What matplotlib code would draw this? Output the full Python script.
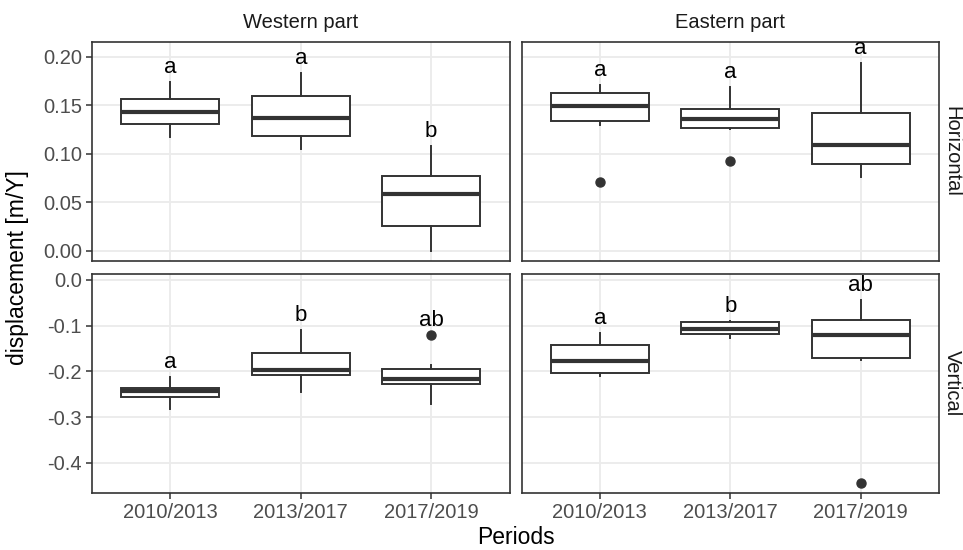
import matplotlib
matplotlib.use("Agg")
import matplotlib.pyplot as plt

plt.rcParams['font.family'] = ['Liberation Sans', 'DejaVu Sans']
plt.rcParams['axes.unicode_minus'] = False

periods = ["2010/2013", "2013/2017", "2017/2019"]
parts = ["Western part", "Eastern part"]
directions = ["Horizontal", "Vertical"]

# Western part, horizontal
wh_low = [0.117, 0.105, 0.000]
wh_q1 = [0.131, 0.118, 0.026]
wh_med = [0.143, 0.137, 0.059]
wh_q3 = [0.156, 0.159, 0.077]
wh_high = [0.174, 0.183, 0.108]
wh_out = [[], [], []]
wh_letters = ["a", "a", "b"]

# Eastern part, horizontal
eh_low = [0.130, 0.125, 0.076]
eh_q1 = [0.134, 0.126, 0.089]
eh_med = [0.149, 0.136, 0.109]
eh_q3 = [0.162, 0.146, 0.142]
eh_high = [0.171, 0.169, 0.193]
eh_out = [[0.071], [0.092], []]
eh_letters = ["a", "a", "a"]

# Western part, vertical
wv_low = [-0.282, -0.246, -0.271]
wv_q1 = [-0.256, -0.207, -0.227]
wv_med = [-0.243, -0.197, -0.216]
wv_q3 = [-0.237, -0.160, -0.195]
wv_high = [-0.212, -0.110, -0.187]
wv_out = [[], [], [-0.121]]
wv_letters = ["a", "b", "ab"]

# Eastern part, vertical
ev_low = [-0.210, -0.126, -0.176]
ev_q1 = [-0.203, -0.118, -0.171]
ev_med = [-0.177, -0.107, -0.120]
ev_q3 = [-0.142, -0.093, -0.087]
ev_high = [-0.117, -0.089, -0.044]
ev_out = [[], [], [-0.444]]
ev_letters = ["a", "b", "ab"]

panels = [
    [(wh_low, wh_q1, wh_med, wh_q3, wh_high, wh_out, wh_letters),
     (eh_low, eh_q1, eh_med, eh_q3, eh_high, eh_out, eh_letters)],
    [(wv_low, wv_q1, wv_med, wv_q3, wv_high, wv_out, wv_letters),
     (ev_low, ev_q1, ev_med, ev_q3, ev_high, ev_out, ev_letters)],
]

row_ylim = [(-0.0105, 0.215), (-0.466, 0.013)]
row_ticks = [[0.0, 0.05, 0.10, 0.15, 0.20], [-0.4, -0.3, -0.2, -0.1, 0.0]]
row_fmt = ["{:.2f}", "{:.1f}"]

dark = "#333333"
fig, axes = plt.subplots(2, 2, figsize=(9.63, 5.5), dpi=100)
fig.subplots_adjust(left=92 / 963, right=939 / 963, top=1 - 42 / 550,
                    bottom=1 - 493 / 550, wspace=12 / 417.5, hspace=13 / 219)

for r in range(2):
    for c in range(2):
        ax = axes[r][c]
        low, q1, med, q3, high, out, letters = panels[r][c]
        stats = []
        for i in range(3):
            stats.append(dict(whislo=low[i], q1=q1[i], med=med[i], q3=q3[i],
                              whishi=high[i], fliers=out[i]))
        ax.bxp(stats, positions=[1, 2, 3], widths=0.75, showcaps=False,
               patch_artist=True,
               boxprops=dict(facecolor="white", edgecolor=dark, linewidth=1.4),
               whiskerprops=dict(color=dark, linewidth=1.4),
               medianprops=dict(color=dark, linewidth=3.0),
               flierprops=dict(marker="o", markersize=6.5, markerfacecolor=dark,
                               markeredgecolor=dark, linestyle="none"))
        for i in range(3):
            top = max([high[i]] + out[i])
            ax.annotate(letters[i], (i + 1, top), xytext=(0, 6.5),
                        textcoords="offset points", ha="center", va="baseline",
                        fontsize=16, color="black")
        ax.set_xlim(0.4, 3.6)
        ax.set_ylim(*row_ylim[r])
        ax.set_yticks(row_ticks[r])
        ax.set_xticks([1, 2, 3])
        ax.grid(True, color="#EBEBEB", linewidth=1.3)
        ax.set_axisbelow(True)
        for s in ax.spines.values():
            s.set_color(dark)
            s.set_linewidth(1.2)
        ax.tick_params(length=4.3, width=1.1, color=dark, labelcolor="#4D4D4D",
                       labelsize=14.5, pad=3)
        if c == 0:
            ax.set_yticklabels([row_fmt[r].format(v) for v in row_ticks[r]])
        else:
            ax.tick_params(axis="y", left=False, labelleft=False)
        if r == 1:
            ax.set_xticklabels(periods)
        else:
            ax.tick_params(axis="x", bottom=False, labelbottom=False)
        if r == 0:
            ax.text(0.5, 1 + 20 / 219, parts[c], transform=ax.transAxes,
                    ha="center", va="center", fontsize=14.5, color="#1A1A1A")
        if c == 1:
            ax.text(1 + 13 / 417.5, 0.5, directions[r], transform=ax.transAxes,
                    ha="center", va="center", rotation=-90, fontsize=14.5,
                    color="#1A1A1A")

fig.text(18 / 963, 1 - 267.5 / 550, "displacement [m/Y]", rotation=90,
         ha="center", va="center", fontsize=16.5)
fig.text(515.5 / 963, 1 - 538 / 550, "Periods", ha="center", va="center",
         fontsize=16.5)

fig.savefig("out.png", dpi=100)
